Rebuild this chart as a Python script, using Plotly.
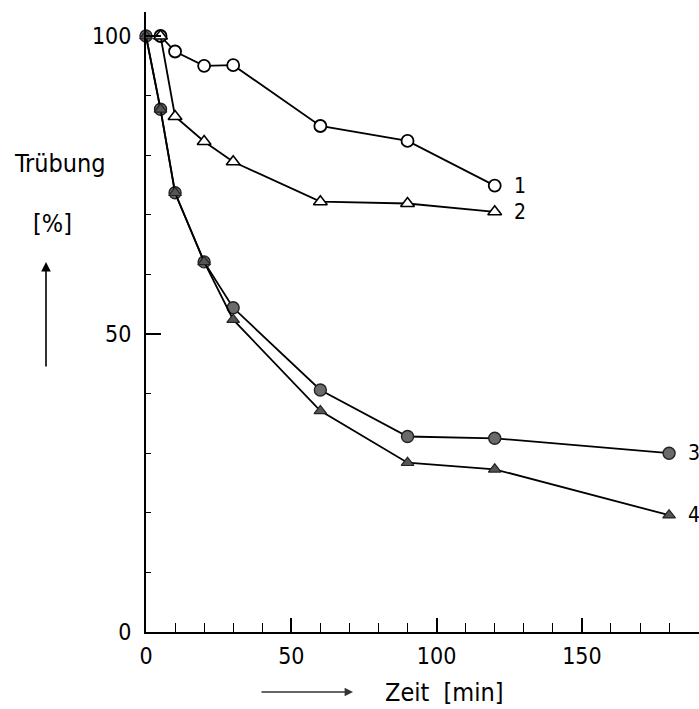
import plotly.graph_objects as go

# ---- data ----
t1 = [5, 10, 20, 30, 60, 90, 120]
y1 = [100, 97.4, 95.0, 95.1, 84.9, 82.4, 74.9]

t2 = [5, 10, 20, 30, 60, 90, 120]
y2 = [100, 86.5, 82.3, 78.9, 72.2, 71.9, 70.5]

t3 = [0, 5, 10, 20, 30, 60, 90, 120, 180]
y3 = [100, 87.7, 73.7, 62.1, 54.4, 40.6, 32.8, 32.5, 30.0]

t4 = [0, 5, 10, 20, 30, 60, 90, 120, 180]
y4 = [100, 87.7, 73.7, 62.1, 52.4, 37.1, 28.4, 27.3, 19.6]

curve_labels = ["1", "2", "3", "4"]
x_ticks = [0, 50, 100, 150]
y_ticks = [0, 50, 100]

FONT = "DejaVu Sans Condensed, Liberation Sans Narrow, DejaVu Sans, sans-serif"

W, H = 699, 709
ML, MR, MT, MB = 146, 0, 12, 77
PW, PH = W - ML - MR, H - MT - MB


def px(xp):
    return (xp - ML) / PW


def py(yp):
    return (H - MB - yp) / PH


fig = go.Figure()

line = dict(color="black", width=1.8)

fig.add_trace(go.Scatter(x=t1, y=y1, mode="lines+markers", line=line,
                         marker=dict(symbol="circle", size=12, color="white",
                                     line=dict(color="black", width=1.8)),
                         showlegend=False, cliponaxis=False))
fig.add_trace(go.Scatter(x=t2, y=y2, mode="lines+markers", line=line,
                         marker=dict(symbol="triangle-up", size=12, color="white",
                                     line=dict(color="black", width=1.6)),
                         showlegend=False, cliponaxis=False))
fig.add_trace(go.Scatter(x=t3, y=y3, mode="lines+markers", line=line,
                         marker=dict(symbol="circle", size=12, color="#6a6a6a",
                                     line=dict(color="#222", width=1.4)),
                         showlegend=False, cliponaxis=False))
fig.add_trace(go.Scatter(x=t4, y=y4, mode="lines+markers", line=line,
                         marker=dict(symbol="triangle-up", size=11, color="#555",
                                     line=dict(color="#222", width=1.2)),
                         showlegend=False, cliponaxis=False))

# curve numbers next to last points
for lab, tx, ty in zip(curve_labels, [t1, t2, t3, t4], [y1, y2, y3, y4]):
    fig.add_annotation(x=tx[-1], y=ty[-1], text=lab, showarrow=False,
                       xanchor="left", yanchor="middle", xshift=17,
                       font=dict(family=FONT, size=21, color="black"))

# y-axis title pieces
fig.add_annotation(xref="paper", yref="paper", x=px(60), y=py(163), text="Trübung",
                   xanchor="center", yanchor="middle",
                   showarrow=False, font=dict(family=FONT, size=25, color="black"))
fig.add_annotation(xref="paper", yref="paper", x=px(52), y=py(223), text="[%]",
                   xanchor="center", yanchor="middle",
                   showarrow=False, font=dict(family=FONT, size=25, color="black"))
fig.add_annotation(xref="paper", yref="paper", x=px(46), y=py(262), ax=0, ay=106,
                   text="", showarrow=True, arrowhead=2, arrowsize=1.2, arrowwidth=1.6,
                   arrowcolor="black")

# x-axis title
fig.add_annotation(xref="paper", yref="paper", x=px(353), y=py(692), ax=-93, ay=0,
                   text="", showarrow=True, arrowhead=2, arrowsize=1.2, arrowwidth=1.4,
                   arrowcolor="#333")
fig.add_annotation(xref="paper", yref="paper", x=px(383), y=py(692), text="Zeit  [min]",
                   xanchor="left", yanchor="middle",
                   showarrow=False, font=dict(family=FONT, size=25, color="black"))

fig.update_xaxes(range=[0, PW / 2.906], showgrid=False, zeroline=False,
                 showline=True, linecolor="black", linewidth=2,
                 tickvals=x_ticks, ticks="inside", ticklen=14, tickwidth=1.5, tickcolor="black",
                 minor=dict(dtick=10, ticks="inside", ticklen=9, tickwidth=1.3, tickcolor="black"),
                 ticklabelstandoff=2,
                 tickfont=dict(family=FONT, size=23, color="black"))
fig.update_yaxes(range=[0, PH / 5.96], showgrid=False, zeroline=False,
                 showline=True, linecolor="black", linewidth=2,
                 tickvals=y_ticks, ticks="inside", ticklen=15, tickwidth=1.8, tickcolor="black",
                 minor=dict(dtick=10, ticks="inside", ticklen=5, tickwidth=1.3, tickcolor="black"),
                 ticklabelstandoff=8,
                 tickfont=dict(family=FONT, size=23, color="black"))

fig.update_layout(width=W, height=H, margin=dict(l=ML, r=MR, t=MT, b=MB),
                  paper_bgcolor="white", plot_bgcolor="white")

fig.write_html("out.html")
